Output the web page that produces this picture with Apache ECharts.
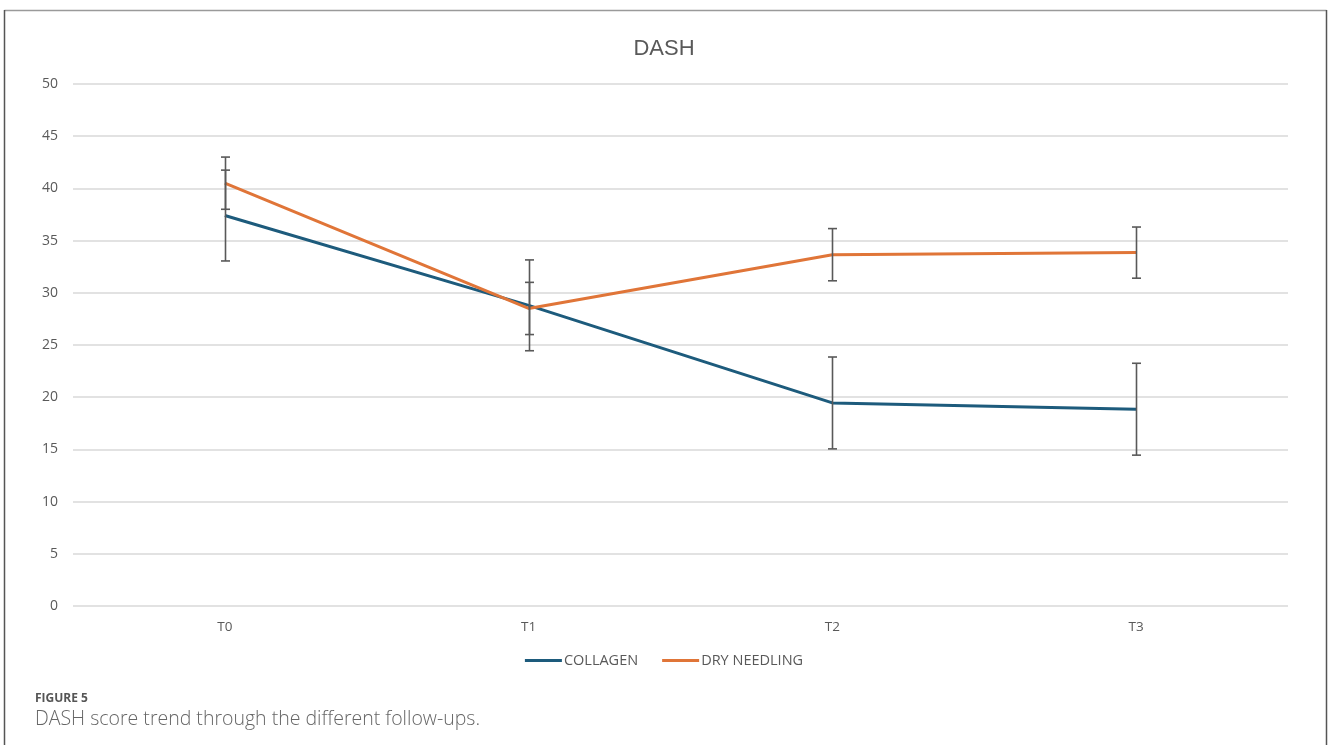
<!DOCTYPE html>
<html>
<head>
<meta charset="utf-8">
<script src="https://cdn.jsdelivr.net/npm/echarts@6/dist/echarts.min.js"></script>
<style>
html,body{margin:0;padding:0;background:#fff;}
#chart{width:1328px;height:745px;}
</style>
</head>
<body>
<div id="chart"></div>
<script>
const categories = ['T0', 'T1', 'T2', 'T3'];
const collagen = [37.4, 28.8, 19.45, 18.85];
const collagenErr = [4.35, 4.35, 4.4, 4.4];
const dryNeedling = [40.5, 28.5, 33.65, 33.85];
const dryNeedlingErr = [2.5, 2.5, 2.5, 2.45];
const yTicks = [0, 50, 5];

const chart = echarts.init(document.getElementById('chart'));
const FONT = 'Open Sans';

function errSeries(name, vals, errs) {
  return {
    name: name + ' err',
    type: 'custom',
    z: 3,
    silent: true,
    data: vals.map((v, i) => [i, v - errs[i], v + errs[i]]),
    renderItem: function (params, api) {
      const lo = api.coord([api.value(0), api.value(1)]);
      const hi = api.coord([api.value(0), api.value(2)]);
      const x = Math.round(lo[0]) + 0.5;
      const w = 4.5;
      const style = { stroke: '#595959', lineWidth: 1.6, fill: null };
      return {
        type: 'group',
        children: [
          { type: 'line', shape: { x1: x, y1: lo[1], x2: x, y2: hi[1] }, style: style },
          { type: 'line', shape: { x1: x - w, y1: lo[1], x2: x + w, y2: lo[1] }, style: style },
          { type: 'line', shape: { x1: x - w, y1: hi[1], x2: x + w, y2: hi[1] }, style: style }
        ]
      };
    }
  };
}

chart.setOption({
  backgroundColor: '#fff',
  animation: false,
  title: {
    text: 'DASH',
    left: 'center',
    top: 33,
    textStyle: { fontFamily: 'Liberation Sans', fontSize: 22, fontWeight: 'normal', color: '#595959' }
  },
  legend: {
    data: ['COLLAGEN', 'DRY NEEDLING'],
    bottom: 72,
    left: 'center',
    icon: 'rect',
    itemWidth: 37,
    itemHeight: 3,
    itemGap: 24,
    textStyle: { fontFamily: FONT, fontSize: 14.5, color: '#595959', padding: [0, 0, 0, -3] }
  },
  grid: { left: 73, right: 40, top: 84, bottom: 139, containLabel: false },
  xAxis: {
    type: 'category',
    data: categories,
    boundaryGap: true,
    axisLine: { show: false },
    axisTick: { show: false },
    axisLabel: { fontFamily: FONT, fontSize: 13.5, color: '#595959', margin: 14 }
  },
  yAxis: {
    type: 'value',
    min: yTicks[0],
    max: yTicks[1],
    interval: yTicks[2],
    axisLine: { show: false },
    axisTick: { show: false },
    axisLabel: { fontFamily: FONT, fontSize: 14, color: '#595959', margin: 15 },
    splitLine: { lineStyle: { color: '#d9d9d9', width: 1.5 } }
  },
  series: [
    {
      name: 'COLLAGEN',
      type: 'line',
      data: collagen,
      symbol: 'none',
      z: 2,
      lineStyle: { color: '#1d5b7c', width: 3 },
      itemStyle: { color: '#1d5b7c' }
    },
    {
      name: 'DRY NEEDLING',
      type: 'line',
      data: dryNeedling,
      symbol: 'none',
      z: 2,
      lineStyle: { color: '#e07538', width: 3 },
      itemStyle: { color: '#e07538' }
    },
    errSeries('COLLAGEN', collagen, collagenErr),
    errSeries('DRY NEEDLING', dryNeedling, dryNeedlingErr)
  ],
  graphic: [
    { type: 'line', shape: { x1: 4.5, y1: 10.5, x2: 1326.5, y2: 10.5 }, style: { stroke: '#9a9a9a', lineWidth: 1.5 } },
    { type: 'line', shape: { x1: 4.5, y1: 10, x2: 4.5, y2: 745 }, style: { stroke: '#555', lineWidth: 1.5 } },
    { type: 'line', shape: { x1: 1326.5, y1: 10, x2: 1326.5, y2: 745 }, style: { stroke: '#555', lineWidth: 1.5 } },
    { type: 'text', left: 35, top: 693, style: { text: 'FIGURE 5', fontFamily: 'Open Sans', fontSize: 12, fontWeight: 'bold', fill: '#555' } },
    { type: 'text', left: 35, top: 709, style: { text: 'DASH score trend through the different follow-ups.', fontFamily: 'Open Sans', fontSize: 19.5, fontWeight: 300, fill: '#666' } }
  ]
});
</script>
</body>
</html>
